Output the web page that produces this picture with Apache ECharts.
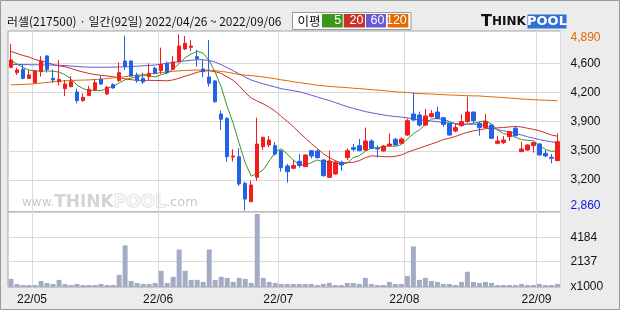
<!DOCTYPE html>
<html><head><meta charset="utf-8">
<script src="https://cdn.jsdelivr.net/npm/echarts@6/dist/echarts.min.js"></script>
<style>html,body{margin:0;padding:0;background:#ececec}#c{width:620px;height:310px}</style>
</head><body><div id="c"></div>
<script>
const dates = [
'2022-04-26','2022-04-27','2022-04-28','2022-04-29',
'2022-05-02','2022-05-03','2022-05-04','2022-05-06','2022-05-09','2022-05-10','2022-05-11','2022-05-12','2022-05-13',
'2022-05-16','2022-05-17','2022-05-18','2022-05-19','2022-05-20','2022-05-23','2022-05-24','2022-05-25','2022-05-26','2022-05-27','2022-05-30','2022-05-31',
'2022-06-02','2022-06-03','2022-06-07','2022-06-08','2022-06-09','2022-06-10','2022-06-13','2022-06-14','2022-06-15','2022-06-16','2022-06-17',
'2022-06-20','2022-06-21','2022-06-22','2022-06-23','2022-06-24','2022-06-27','2022-06-28','2022-06-29','2022-06-30',
'2022-07-01','2022-07-04','2022-07-05','2022-07-06','2022-07-07','2022-07-08','2022-07-11','2022-07-12','2022-07-13','2022-07-14','2022-07-15',
'2022-07-18','2022-07-19','2022-07-20','2022-07-21','2022-07-22','2022-07-25','2022-07-26','2022-07-27','2022-07-28','2022-07-29',
'2022-08-01','2022-08-02','2022-08-03','2022-08-04','2022-08-05','2022-08-08','2022-08-09','2022-08-10','2022-08-11','2022-08-12',
'2022-08-16','2022-08-17','2022-08-18','2022-08-19','2022-08-22','2022-08-23','2022-08-24','2022-08-25','2022-08-26','2022-08-29','2022-08-30','2022-08-31',
'2022-09-01','2022-09-02','2022-09-05','2022-09-06'];
const opens = [4509,4448,4486,4382,4332,4459,4640,4382,4344,4263,4286,4225,4125,4183,4248,4371,4202,4309,4356,4582,
4582,4421,4382,4402,4498,4471,4555,4486,4575,4721,4740,4632,4490,4398,4352,3971,3921,3475,3479,3172,
2960,3241,3594,3614,3606,3548,3372,3345,3425,3364,3548,3545,3441,3241,3279,3414,3468,3583,3606,3556,
3660,3575,3545,3602,3679,3633,3729,3971,3960,3844,3940,3994,3929,3864,3775,3837,3883,3994,3864,3814,
3844,3633,3641,3710,3806,3537,3556,3606,3625,3518,3472,3433];
const closes = [4594,4478,4382,4421,4467,4582,4486,4363,4371,4317,4344,4125,4163,4256,4332,4317,4279,4271,4448,4517,
4409,4356,4340,4440,4440,4544,4448,4571,4755,4786,4755,4609,4459,4325,4113,3910,3479,3487,3164,2991,
3153,3625,3702,3671,3510,3352,3306,3376,3376,3498,3487,3468,3260,3429,3414,3383,3548,3564,3548,3660,
3575,3568,3602,3625,3614,3683,3894,3902,3844,3948,3975,3921,3852,3729,3814,3883,3994,3894,3814,3883,
3691,3660,3671,3767,3721,3568,3614,3641,3498,3487,3460,3652];
const lows = [4498,4421,4371,4379,4325,4402,4448,4332,4302,4179,4279,4094,4113,4179,4240,4306,4190,4263,4344,4478,
4402,4332,4317,4363,4428,4432,4440,4478,4563,4709,4698,4517,4394,4286,4102,3787,3422,3422,3141,2860,
2953,3203,3556,3587,3491,3306,3180,3337,3352,3360,3460,3460,3249,3233,3272,3318,3441,3541,3541,3548,
3568,3468,3537,3594,3606,3625,3718,3890,3825,3833,3933,3910,3825,3721,3760,3825,3871,3864,3721,3806,
3683,3621,3625,3660,3714,3533,3548,3525,3495,3472,3402,3429];
const highs = [4778,4505,4544,4478,4478,4640,4651,4486,4594,4363,4409,4263,4209,4294,4371,4409,4294,4325,4567,4874,
4594,4448,4448,4555,4517,4736,4575,4640,4890,4870,4824,4709,4594,4824,4363,4010,3933,3564,3575,3191,
3203,3929,3710,3718,3645,3548,3395,3441,3510,3506,3556,3564,3449,3548,3433,3433,3575,3625,3683,3814,
3679,3606,3614,3748,3698,3702,3921,4217,3998,4029,4017,4056,3933,3871,3856,3967,4171,3998,3883,3971,
3852,3721,3717,3775,3833,3652,3621,3652,3633,3556,3510,3748];
const volumes = [684,257,171,171,171,513,342,257,599,257,171,257,171,171,171,257,171,171,1026,3506,
513,342,257,257,342,1368,342,855,3164,1368,599,599,428,3164,599,855,770,428,770,684,
342,6150,770,428,342,257,257,257,257,257,257,171,257,342,171,171,342,342,257,770,
257,171,171,428,257,257,940,3420,599,770,513,428,257,257,171,428,1283,428,342,428,
342,171,171,171,171,257,171,171,257,171,171,257];
const ma5 = [4590,4548,4507,4478,4468,4466,4468,4464,4454,4424,4376,4304,4264,4241,4244,4239,4269,4291,4329,4366,
4385,4400,4414,4412,4397,4424,4442,4489,4552,4621,4663,4695,4673,4587,4452,4283,4057,3863,3631,3406,
3255,3284,3327,3428,3532,3572,3508,3443,3384,3382,3409,3441,3418,3428,3412,3391,3407,3468,3491,3541,
3579,3583,3591,3606,3597,3618,3684,3744,3787,3854,3913,3918,3908,3885,3858,3840,3854,3863,3880,3894,
3855,3788,3744,3734,3702,3677,3668,3662,3608,3562,3540,3548];
const ma20 = [4692,4669,4646,4628,4599,4582,4565,4542,4525,4516,4496,4473,4455,4438,4426,4417,4409,4401,4392,4376,
4366,4360,4358,4359,4358,4356,4354,4364,4384,4407,4428,4452,4467,4470,4459,4439,4399,4360,4295,4219,
4156,4120,4088,4049,4003,3943,3886,3826,3757,3693,3630,3573,3513,3468,3433,3407,3410,3414,3433,3467,
3488,3485,3480,3477,3483,3499,3529,3555,3578,3601,3625,3648,3677,3692,3712,3737,3760,3776,3790,3801,
3807,3811,3815,3822,3827,3821,3807,3794,3777,3754,3728,3715];
const ma60 = [4542,4542,4541,4540,4538,4537,4536,4535,4533,4529,4524,4519,4514,4511,4510,4510,4510,4511,4513,4515,
4519,4522,4527,4531,4536,4545,4556,4566,4575,4583,4591,4597,4597,4588,4570,4540,4505,4470,4433,4396,
4362,4340,4319,4300,4282,4263,4251,4240,4228,4209,4188,4167,4146,4126,4103,4079,4056,4036,4017,3999,
3985,3973,3960,3950,3942,3936,3927,3913,3904,3898,3890,3882,3874,3867,3861,3856,3855,3853,3852,3833,
3810,3791,3777,3764,3746,3729,3709,3692,3676,3662,3650,3640];
const ma120 = [4307,4309,4312,4316,4320,4327,4335,4343,4349,4354,4357,4360,4362,4364,4369,4373,4380,4387,4394,4402,
4410,4417,4425,4433,4441,4448,4455,4462,4469,4473,4476,4478,4478,4476,4471,4462,4453,4440,4426,4418,
4414,4406,4398,4388,4377,4365,4355,4343,4333,4323,4314,4303,4296,4289,4284,4279,4275,4268,4264,4258,
4252,4247,4241,4234,4227,4222,4219,4211,4207,4204,4201,4197,4194,4190,4188,4184,4182,4180,4179,4174,
4169,4165,4160,4155,4150,4144,4140,4136,4132,4130,4127,4124];
const priceTicks = [3210, 3546, 3882, 4218, 4554];
const volumeTicks = [2137, 4184];
const maPeriods = [5, 20, 60, 120];
const maSeries = [ma5, ma20, ma60, ma120];
const stockName = '러셀', stockCode = '217500';

const maColors = ['#3d961c', '#c8302a', '#6658d6', '#e06a00'];
const upColor = '#f41c1c', downColor = '#2262e6';
const gridColor = '#dadada', borderColor = '#a3a3a3';
const fontNum = '"Liberation Sans", "DejaVu Sans", sans-serif';
const fontKr = '"Noto Sans CJK KR", sans-serif';

const maxHigh = Math.max(...highs), minLow = Math.min(...lows);
const fmt = n => n.toLocaleString('en-US');
const isMonthStart = i => i > 0 && dates[i].slice(5, 7) !== dates[i - 1].slice(5, 7);
const candles = dates.map((d, i) => [opens[i], closes[i], lows[i], highs[i]]);

const chart = echarts.init(document.getElementById('c'), null, {renderer: 'canvas'});

const legendX = [322, 343.7, 366, 387.7], legendW = [20.7, 21.3, 20, 20.6];
const graphics = [
  {type: 'rect', shape: {x: 0.5, y: 0.5, width: 619, height: 309}, style: {fill: 'none', stroke: '#9a9a9a', lineWidth: 1}, silent: true},
  {type: 'text', x: 7, y: 21, style: {text: `${stockName}(${stockCode}) · 일간(${dates.length}일) ${dates[0].replace(/-/g, '/')} ~ ${dates[dates.length - 1].replace(/-/g, '/')}`,
     font: '11.9px ' + fontKr, fill: '#111', verticalAlign: 'middle'}},
  {type: 'rect', shape: {x: 292.5, y: 12.5, width: 118.5, height: 17}, style: {fill: '#fff', stroke: '#9a9a9a', lineWidth: 1}},
  {type: 'text', x: 297.5, y: 21, style: {text: '이평', font: '12.5px ' + fontKr, fill: '#111', verticalAlign: 'middle'}},
  {type: 'text', x: 481, y: 21.5, style: {text: '{t|T}{h|HINK}', verticalAlign: 'middle',
     rich: {t: {font: 'bold 16px "DejaVu Sans", sans-serif', fill: '#111'}, h: {font: 'bold 12px "DejaVu Sans", sans-serif', fill: '#111'}}}},
  {type: 'rect', shape: {x: 527.5, y: 14.5, width: 39, height: 14}, style: {fill: '#2f6fdc'}},
  {type: 'text', x: 547, y: 21.5, style: {text: 'POOL', font: 'bold 13px "DejaVu Sans", sans-serif', fill: '#fff', align: 'center', verticalAlign: 'middle'}},
  {type: 'text', x: 22, y: 211, style: {text: '{w|www.}{t|THINK}{p|POOL}{c|.com}', verticalAlign: 'bottom',
     rich: {w: {font: '12px "DejaVu Sans", sans-serif', fill: '#c8c8c8'},
            t: {font: 'bold 17px "DejaVu Sans", sans-serif', fill: '#d4d4d4'},
            p: {font: 'bold 17px "DejaVu Sans", sans-serif', fill: '#f6f6f6', stroke: '#d4d4d4', lineWidth: 1},
            c: {font: '13px "DejaVu Sans", sans-serif', fill: '#c8c8c8'}}}, z: 0}
];
maPeriods.forEach((p, k) => {
  graphics.push({type: 'rect', shape: {x: legendX[k], y: 14, width: legendW[k], height: 13.5}, style: {fill: maColors[k]}});
  graphics.push({type: 'text', x: legendX[k] + legendW[k] - 1.5, y: 21, style: {text: String(p), font: '12.5px ' + fontNum, fill: '#fff', align: 'right', verticalAlign: 'middle'}});
});

const option = {
  animation: false,
  backgroundColor: '#ececec',
  grid: [
    {left: 8, right: 59.5, top: 31, height: 181, show: true, backgroundColor: '#fff', borderColor: borderColor, borderWidth: 1},
    {left: 8, right: 59.5, top: 212, height: 75, show: true, backgroundColor: '#fff', borderColor: borderColor, borderWidth: 1}
  ],
  xAxis: [
    {type: 'category', gridIndex: 0, data: dates, boundaryGap: true,
     axisLine: {show: false}, axisTick: {show: false}, axisLabel: {show: false},
     splitLine: {show: true, interval: (i) => isMonthStart(i), lineStyle: {color: gridColor, width: 1}}},
    {type: 'category', gridIndex: 1, data: dates, boundaryGap: true,
     axisLine: {show: false}, axisTick: {show: false},
     axisLabel: {show: true, interval: (i) => isMonthStart(i), formatter: v => v.slice(2, 4) + '/' + v.slice(5, 7),
       color: '#111', fontSize: 12, fontFamily: fontNum, margin: 7, padding: [0, 6, 0, 0]},
     splitLine: {show: true, interval: (i) => isMonthStart(i), lineStyle: {color: gridColor, width: 1}}}
  ],
  yAxis: [
    {type: 'value', gridIndex: 0, position: 'right', min: 2841, max: 4928, scale: true,
     axisLine: {show: false}, axisTick: {show: false, customValues: priceTicks},
     splitLine: {show: true, lineStyle: {color: gridColor, width: 1}},
     axisLabel: {show: true, customValues: [minLow, ...priceTicks, maxHigh], margin: 10, color: '#111',
       fontSize: 12, fontFamily: fontNum,
       formatter: v => v === maxHigh ? '{hi|' + fmt(v) + '}' : v === minLow ? '{lo|' + fmt(v) + '}' : fmt(Math.round(v / 100) * 100),
       rich: {hi: {color: '#e06a00', fontSize: 12, fontFamily: fontNum, padding: [7, 0, 0, 0]},
              lo: {color: '#1414e0', fontSize: 12, fontFamily: fontNum, padding: [0, 0, 9, 0]}}}},
    {type: 'value', gridIndex: 1, position: 'right', min: 0, max: 6320,
     axisLine: {show: false}, axisTick: {show: false, customValues: volumeTicks},
     splitLine: {show: true, lineStyle: {color: gridColor, width: 1}},
     axisLabel: {show: true, customValues: [0, ...volumeTicks], margin: 10, color: '#111', fontSize: 12, fontFamily: fontNum,
       formatter: v => v === 0 ? 'x1000' : String(v)}}
  ],
  series: [
    {type: 'candlestick', xAxisIndex: 0, yAxisIndex: 0, data: candles, barWidth: 4, z: 4,
     itemStyle: {color: upColor, color0: downColor, borderColor: upColor, borderColor0: downColor, borderWidth: 1}},
    ...maSeries.map((arr, k) => ({type: 'line', xAxisIndex: 0, yAxisIndex: 0, data: arr, showSymbol: false, symbol: 'none',
      z: 3, lineStyle: {color: maColors[k], width: 1}})),
    {type: 'bar', xAxisIndex: 1, yAxisIndex: 1, data: volumes, barWidth: 5, itemStyle: {color: '#a3acc4'}}
  ],
  graphic: graphics
};
chart.setOption(option);
</script></body></html>
